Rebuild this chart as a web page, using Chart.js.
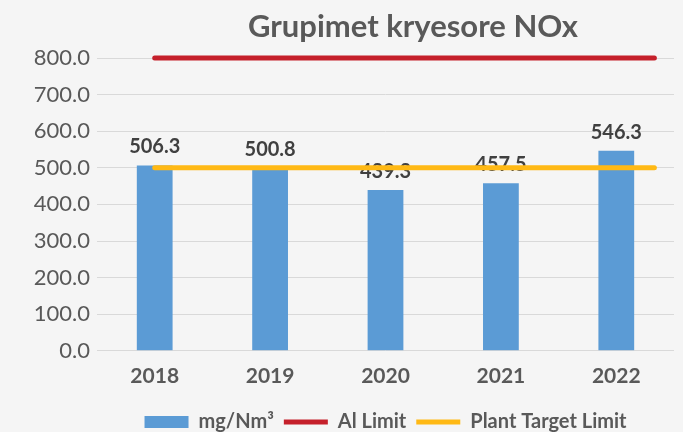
<!DOCTYPE html>
<html>
<head>
<meta charset="utf-8">
<script src="https://cdn.jsdelivr.net/npm/chart.js@4/dist/chart.umd.min.js"></script>
<style>
  html, body { margin:0; padding:0; background:#f5f5f5; }
  #wrap { width:683px; height:432px; position:relative; }
</style>
</head>
<body>
<div id="wrap"><canvas id="chart"></canvas></div>
<script>
// ── Data ─────────────────────────────────────
const years = ['2018', '2019', '2020', '2021', '2022'];
const noxValues = [506.3, 500.8, 439.3, 457.5, 546.3];
const alLimit = [800, 800];
const targetLimit = [500, 500];
// limit lines start/end, in category units (0 = 2018)
const limitSpan = [0, 4.33];
const yTicks = [0, 100, 200, 300, 400, 500, 600, 700, 800];

const titleText = 'Grupimet kryesore NOx';
const font = 'Lato';
const gray = '#595959';

// ── Plugins ──────────────────────────────────
const titlePlugin = {
  id: 'titleText',
  afterDraw(chart) {
    const c = chart.ctx;
    c.save();
    c.font = `bold 31px ${font}`;
    c.fillStyle = gray;
    c.textAlign = 'center';
    c.textBaseline = 'alphabetic';
    c.fillText(titleText, 413, 37);
    c.restore();
  }
};

const barLabels = {
  id: 'barLabels',
  afterDatasetDraw(chart, args) {
    if (args.index !== 0) return;
    const c = chart.ctx;
    c.save();
    c.font = `bold 20px ${font}`;
    c.fillStyle = '#404040';
    c.textAlign = 'center';
    c.textBaseline = 'alphabetic';
    args.meta.data.forEach((bar, i) => {
      c.fillText(noxValues[i].toFixed(1), bar.x, bar.y - 12);
    });
    c.restore();
  }
};

// ── Chart ────────────────────────────────────
const lineData = vals => limitSpan.map((x, i) => ({ x, y: vals[i] }));

new Chart(document.getElementById('chart'), {
  type: 'line',
  data: {
    labels: years,
    datasets: [
      { type: 'bar', label: 'mg/Nm³', data: noxValues, backgroundColor: '#5b9bd5', borderWidth: 0,
        barPercentage: 0.31, categoryPercentage: 1, grouped: false, order: 2, pointStyle: 'rect' },
      { label: 'Al Limit', data: lineData(alLimit), xAxisID: 'xl', clip: 10,
        borderColor: '#c5202b', backgroundColor: '#c5202b', borderWidth: 5, borderCapStyle: 'round',
        pointRadius: 0, order: 0, pointStyle: 'line' },
      { label: 'Plant Target Limit', data: lineData(targetLimit), xAxisID: 'xl', clip: 10,
        borderColor: '#ffb915', backgroundColor: '#ffb915', borderWidth: 5, borderCapStyle: 'round',
        pointRadius: 0, order: 1, pointStyle: 'line' }
    ]
  },
  options: {
    responsive: true, maintainAspectRatio: false, animation: false,
    layout: { padding: { top: 58, right: 9, bottom: -10, left: 0 } },
    scales: {
      x: {
        type: 'category', offset: true,
        grid: { display: false, drawTicks: false }, border: { display: false },
        ticks: { color: gray, padding: 13, font: { family: font, size: 21, weight: 'bold' } }
      },
      xl: { type: 'linear', display: false, offset: false, min: -0.5, max: 4.5 },
      y: {
        min: 0, max: 800,
        afterBuildTicks: s => { s.ticks = yTicks.map(v => ({ value: v })); },
        afterFit: s => { s.width = 97; },
        grid: { color: '#d9d9d9', drawTicks: false },
        border: { display: false },
        ticks: { color: gray, padding: 7, font: { family: font, size: 22 }, callback: v => v.toFixed(1) }
      }
    },
    plugins: {
      tooltip: { enabled: false },
      legend: {
        position: 'bottom', fullSize: false,
        labels: {
          usePointStyle: true, pointStyleWidth: 44, boxHeight: 12, padding: 10,
          color: gray, font: { family: font, size: 20, weight: 'bold' },
          sort: (a, b) => a.datasetIndex - b.datasetIndex
        }
      }
    }
  },
  plugins: [titlePlugin, barLabels]
});
</script>
</body>
</html>
